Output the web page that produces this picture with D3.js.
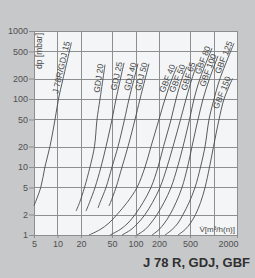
<!DOCTYPE html>
<html>
<head>
<meta charset="utf-8">
<script src="https://cdn.jsdelivr.net/npm/d3@7"></script>
<style>
    body { margin: 0; background: #c7c8ca; }
    svg { display: block; font-family: "Liberation Sans", Arial, sans-serif; }
</style>
</head>
<body>
<div id="chart"></div>
<script>
// Axis values
const flowGrid = [5, 10, 20, 50, 100, 200, 500, 1000, 2000];
const flowTicks = [5, 10, 20, 50, 100, 200, 500, 2000];
const pressureTicks = [1, 2, 5, 10, 20, 50, 100, 200, 500, 1000];

// Curves: volume flow [m3/h(n)] and pressure drop [mbar]
const seriesNames = ["J 78R/GDJ 15", "GDJ 20", "GDJ 25", "GDJ 40", "GDJ 50",
    "GBF 40", "GBF 50", "GBF 65", "GBF 80", "GBF 100", "GBF 125", "GBF 150"];

const seriesFlow = [
    [5, 6.1, 6.9, 8.0, 9.3, 10.3, 11.8, 15.1],
    [17.3, 19.2, 22.2, 26.1, 29.8, 32.1, 35.1, 40.7],
    [23.2, 25.7, 30.3, 36.1, 41.9, 50, 56.3, 71.3],
    [33.1, 35.1, 41.9, 50, 59.7, 72.3, 82.6, 107.7],
    [45.7, 47.8, 56.3, 67.2, 80.2, 98.6, 114.3, 149],
    [25.4, 35.1, 45.7, 58, 77.9, 104.6, 132.5, 158, 200, 239, 294, 341],
    [47.2, 63.3, 80.2, 98.6, 124.9, 158, 194.5, 228.6, 285.6, 330.7, 394.6, 457],
    [67.2, 87.6, 107.7, 132.5, 165, 206, 253.6, 302.6, 377.6, 444.5, 530, 614.7],
    [104.6, 132.5, 158, 188.8, 232, 285.6, 346, 406.6, 492.6, 562.6, 671.9, 957.5],
    [163, 200, 235.6, 277.2, 330.7, 394.6, 464.7, 530, 633, 734, 889, 1142],
    [239, 294, 351, 406.6, 485.6, 579.6, 681.7, 778.6, 876, 1016, 1212, 1832],
    [351, 431.5, 507.6, 588, 681.7, 778.6, 889, 1000, 1177, 1364, 1753]
];

const seriesDp = [
    [2.7, 5, 10, 20, 50, 100, 200, 680],
    [2.25, 3, 5, 10, 20, 50, 100, 320],
    [2.25, 3, 5, 10, 20, 50, 100, 340],
    [2.5, 3, 5, 10, 20, 50, 100, 330],
    [2.67, 3, 5, 10, 20, 50, 100, 330],
    [1, 1.2, 1.5, 2, 3, 5, 10, 20, 50, 100, 200, 300],
    [1, 1.2, 1.5, 2, 3, 5, 10, 20, 50, 100, 200, 300],
    [1, 1.2, 1.5, 2, 3, 5, 10, 20, 50, 100, 200, 330],
    [1, 1.2, 1.5, 2, 3, 5, 10, 20, 50, 100, 200, 560],
    [1, 1.2, 1.5, 2, 3, 5, 10, 20, 50, 100, 200, 430],
    [1, 1.2, 1.5, 2, 3, 5, 10, 20, 50, 100, 200, 660],
    [1, 1.2, 1.5, 2, 3, 5, 10, 20, 50, 100, 200]
];

class PressureChart {

    constructor(config) {
        this.config = config;
        this.configureVis();
    }

    configureVis() {
        const vis = this;
        const m = vis.config.margin;

        vis.width = vis.config.containerWidth - m.left - m.right;
        vis.height = vis.config.containerHeight - m.top - m.bottom;

        vis.xScale = d3.scaleLog().domain([5, 2000]).range([0, vis.width]);
        vis.yScale = d3.scaleLog().domain([1, 1000]).range([vis.height, 0]);

        vis.svg = d3.select(vis.config.parentElement)
            .append('svg')
            .attr('width', vis.config.containerWidth)
            .attr('height', vis.config.containerHeight);

        vis.chart = vis.svg.append('g')
            .attr('transform', `translate(${m.left}, ${m.top})`);

        vis.series = seriesNames.map((name, i) => ({
            name: name,
            points: seriesFlow[i].map((q, j) => ({ q: q, dp: seriesDp[i][j] }))
        }));

        vis.renderVis();
    }

    renderVis() {
        const vis = this;

        vis.chart.append('rect')
            .attr('width', vis.width)
            .attr('height', vis.height)
            .attr('fill', '#f3f5f7');

        // grid
        vis.chart.selectAll('.vgrid')
            .data(flowGrid)
            .join('line')
            .attr('class', 'vgrid')
            .attr('x1', d => Math.round(vis.xScale(d)) + 0.5)
            .attr('x2', d => Math.round(vis.xScale(d)) + 0.5)
            .attr('y1', 0)
            .attr('y2', vis.height)
            .attr('stroke', '#8e8e8e')
            .attr('stroke-width', 1);

        vis.chart.selectAll('.hgrid')
            .data(pressureTicks)
            .join('line')
            .attr('class', 'hgrid')
            .attr('x1', 0)
            .attr('x2', vis.width)
            .attr('y1', d => Math.round(vis.yScale(d)) + 0.5)
            .attr('y2', d => Math.round(vis.yScale(d)) + 0.5)
            .attr('stroke', '#8e8e8e')
            .attr('stroke-width', 1);

        // axes
        const yAxis = d3.axisLeft(vis.yScale)
            .tickValues(pressureTicks)
            .tickFormat(d3.format('d'))
            .tickSize(5)
            .tickSizeOuter(0)
            .tickPadding(1);

        const xAxis = d3.axisBottom(vis.xScale)
            .tickValues(flowTicks)
            .tickFormat(d3.format('d'))
            .tickSize(3)
            .tickSizeOuter(0)
            .tickPadding(3);

        const yG = vis.chart.append('g').call(yAxis);
        const xG = vis.chart.append('g')
            .attr('transform', `translate(0, ${vis.height})`)
            .call(xAxis);

        [yG, xG].forEach(g => {
            g.select('.domain').remove();
            g.selectAll('line').attr('stroke', '#8e8e8e');
            g.selectAll('text')
                .attr('fill', '#505050')
                .style('font-size', '9px')
                .style('font-family', '"Liberation Sans", Arial, sans-serif');
        });

        xG.selectAll('.tick')
            .filter(d => d === 2000)
            .select('text')
            .attr('text-anchor', 'end')
            .attr('x', 1);

        // curves
        const line = d3.line()
            .x(d => vis.xScale(d.q))
            .y(d => vis.yScale(d.dp))
            .curve(d3.curveCatmullRom);

        vis.chart.selectAll('.curve')
            .data(vis.series)
            .join('path')
            .attr('class', 'curve')
            .attr('d', d => line(d.points))
            .attr('fill', 'none')
            .attr('stroke', '#4a4a4a')
            .attr('stroke-width', 0.9);

        // labels along the end of each curve
        vis.chart.selectAll('.curve-label')
            .data(vis.series)
            .join('text')
            .attr('class', 'curve-label')
            .attr('transform', d => {
                const n = d.points.length;
                const a = d.points[n - 2], b = d.points[n - 1];
                const x1 = vis.xScale(a.q), y1 = vis.yScale(a.dp);
                const x2 = vis.xScale(b.q), y2 = vis.yScale(b.dp);
                const angle = Math.atan2(y2 - y1, x2 - x1) * 180 / Math.PI;
                return `translate(${x2}, ${y2}) rotate(${angle})`;
            })
            .attr('dy', -1.5)
            .attr('text-anchor', 'end')
            .attr('fill', '#454545')
            .style('font-size', '8.5px')
            .text(d => d.name);

        // axis titles
        vis.chart.append('text')
            .attr('transform', 'translate(8, 2) rotate(-90)')
            .attr('text-anchor', 'end')
            .attr('fill', '#454545')
            .style('font-size', '8.5px')
            .text('dp [mbar]');

        vis.chart.append('text')
            .attr('x', vis.width - 2)
            .attr('y', vis.height - 3)
            .attr('text-anchor', 'end')
            .attr('fill', '#454545')
            .style('font-size', '8px')
            .text('V\u0307[m\u00b3/h(n)]');

        vis.svg.append('text')
            .attr('x', 250)
            .attr('y', 267)
            .attr('text-anchor', 'end')
            .attr('fill', '#303030')
            .style('font-size', '13px')
            .style('font-weight', 'bold')
            .text('J 78 R, GDJ, GBF');
    }
}

new PressureChart({
    parentElement: '#chart',
    containerWidth: 255,
    containerHeight: 278,
    margin: { top: 31, right: 18, bottom: 43, left: 34 }
});
</script>
</body>
</html>
